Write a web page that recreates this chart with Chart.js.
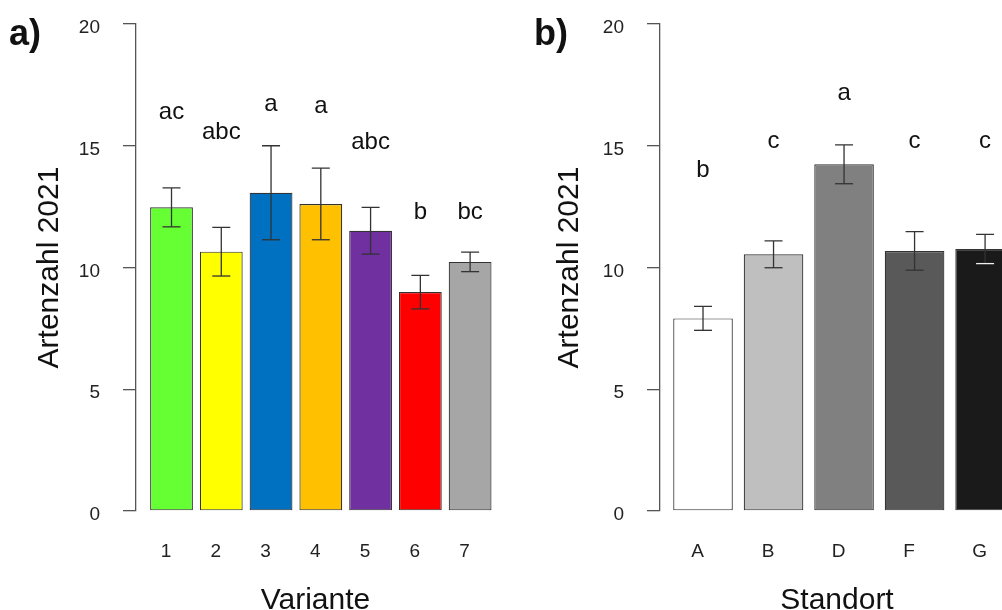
<!DOCTYPE html>
<html>
<head>
<meta charset="utf-8">
<script src="https://cdn.jsdelivr.net/npm/chart.js@4.4.0/dist/chart.umd.min.js"></script>
<style>
  html, body { margin: 0; padding: 0; width: 1002px; height: 610px; overflow: hidden; background: #fff; }
  .wrap { position: absolute; top: 0; height: 610px; }
  #wa { left: 0; width: 520px; }
  #wb { left: 520px; width: 520px; }
</style>
</head>
<body>
<div class="wrap" id="wa"><canvas id="ca" width="520" height="610"></canvas></div>
<div class="wrap" id="wb"><canvas id="cb" width="520" height="610"></canvas></div>
<script>
// ---- data panel a) ----
const variantCategories = ['1', '2', '3', '4', '5', '6', '7'];
const variantMeans = [12.47, 10.65, 13.07, 12.61, 11.51, 8.99, 10.23];
const variantSE = [0.80, 1.00, 1.93, 1.47, 0.96, 0.69, 0.40];
const variantLetters = ['ac', 'abc', 'a', 'a', 'abc', 'b', 'bc'];
const variantLetterHeights = [16.36, 15.54, 16.7, 16.62, 15.15, 12.26, 12.26];
const variantColors = ['#66FF33', '#FFFF00', '#0070C0', '#FFC000', '#7030A0', '#FF0000', '#A6A6A6'];

// ---- data panel b) ----
const standortCategories = ['A', 'B', 'D', 'F', 'G'];
const standortMeans = [7.91, 10.54, 14.24, 10.68, 10.76];
const standortSE = [0.49, 0.55, 0.80, 0.79, 0.60];
const standortLetters = ['b', 'c', 'a', 'c', 'c'];
const standortLetterHeights = [14.0, 15.17, 17.15, 15.17, 15.17];
const standortColors = ['#FFFFFF', '#BFBFBF', '#808080', '#595959', '#1A1A1A'];

// ---- y axis ticks ----
const yTickValues = [0, 5, 10, 15, 20];

const FONT = "'Liberation Sans', Arial, Helvetica, sans-serif";

function luminance(hex) {
  const n = parseInt(hex.slice(1), 16);
  return (0.299 * ((n >> 16) & 255) + 0.587 * ((n >> 8) & 255) + 0.114 * (n & 255)) / 255;
}

function annotPlugin(panelLabel, se, means, letters, letterHeights, colors) {
  return {
    id: 'annot',
    afterDatasetsDraw(chart) {
      const ctx = chart.ctx;
      const meta = chart.getDatasetMeta(0);
      const ys = chart.scales.y;
      ctx.save();
      // error bars
      meta.data.forEach((bar, i) => {
        const x = bar.x;
        const yHi = ys.getPixelForValue(means[i] + se[i]);
        const yLo = ys.getPixelForValue(means[i] - se[i]);
        const hw = 9;
        ctx.lineWidth = 1.3;
        ctx.strokeStyle = '#333';
        ctx.beginPath();
        ctx.moveTo(x, yHi); ctx.lineTo(x, yLo);
        ctx.moveTo(x - hw, yHi); ctx.lineTo(x + hw, yHi);
        ctx.stroke();
        ctx.strokeStyle = luminance(colors[i]) < 0.2 ? '#f0f0f0' : '#333';
        ctx.beginPath();
        ctx.moveTo(x - hw, yLo); ctx.lineTo(x + hw, yLo);
        ctx.stroke();
      });
      // letters
      ctx.fillStyle = '#111';
      ctx.font = '24px ' + FONT;
      ctx.textAlign = 'center';
      ctx.textBaseline = 'middle';
      meta.data.forEach((bar, i) => {
        ctx.fillText(letters[i], bar.x, ys.getPixelForValue(letterHeights[i]));
      });
      // panel label
      ctx.font = 'bold 36px ' + FONT;
      ctx.textAlign = 'left';
      ctx.textBaseline = 'alphabetic';
      ctx.fillText(panelLabel.text, panelLabel.x, 45);
      ctx.restore();
    }
  };
}

function makeChart(canvasId, cfg) {
  return new Chart(document.getElementById(canvasId), {
    type: 'bar',
    data: {
      datasets: [{
        data: cfg.means.map((v, i) => ({ x: i + 1, y: v })),
        backgroundColor: cfg.colors,
        borderColor: '#333',
        borderWidth: 1.2,
        borderSkipped: false,
        barPercentage: cfg.barPct,
        categoryPercentage: 1,
        clip: false
      }]
    },
    options: {
      responsive: false,
      animation: false,
      events: [],
      layout: { padding: { left: 0, top: 24, right: cfg.padRight, bottom: 0 } },
      plugins: { legend: { display: false }, tooltip: { enabled: false } },
      scales: {
        x: {
          type: 'linear',
          min: cfg.xmin,
          max: cfg.xmax,
          offset: false,
          grid: { display: false, drawTicks: false },
          border: { display: false },
          afterBuildTicks: (s) => { s.ticks = cfg.categories.map((c, i) => ({ value: i + 1 })); },
          afterFit: (s) => { s.height = 99; s.paddingLeft = 0; s.paddingRight = 0; },
          ticks: {
            autoSkip: false,
            maxRotation: 0,
            padding: 29,
            labelOffset: -5.5,
            color: '#222',
            font: { family: FONT, size: 19 },
            callback: (v) => cfg.categories[Math.round(v) - 1] ?? ''
          },
          title: {
            display: true,
            text: cfg.xTitle,
            color: '#111',
            font: { family: FONT, size: 30, lineHeight: 1 },
            padding: { top: 0, bottom: -6 }
          }
        },
        y: {
          min: 0,
          max: 20,
          afterBuildTicks: (s) => { s.ticks = yTickValues.map(v => ({ value: v })); },
          afterFit: (s) => { s.width = cfg.axisX; s.paddingTop = 0; s.paddingBottom = 0; },
          grid: { display: true, drawOnChartArea: false, drawTicks: true, tickLength: 13, color: '#555', lineWidth: 1.3 },
          border: { display: true, color: '#555', width: 1.3 },
          ticks: {
            padding: 23,
            labelOffset: 4,
            color: '#222',
            font: { family: FONT, size: 19 }
          },
          title: {
            display: true,
            text: 'Artenzahl 2021',
            color: '#111',
            font: { family: FONT, size: 30, lineHeight: 1.2 },
            padding: { top: 32, bottom: 0 }
          }
        }
      }
    },
    plugins: [annotPlugin(cfg.panel, cfg.se, cfg.means, cfg.letters, cfg.letterHeights, cfg.colors)]
  });
}

makeChart('ca', {
  categories: variantCategories, means: variantMeans, se: variantSE,
  letters: variantLetters, letterHeights: variantLetterHeights, colors: variantColors,
  xTitle: 'Variante', axisX: 136, xmin: 0.2864, xmax: 7.5, padRight: 25, barPct: 0.86,
  panel: { text: 'a)', x: 9 }
});

makeChart('cb', {
  categories: standortCategories, means: standortMeans, se: standortSE,
  letters: standortLetters, letterHeights: standortLetterHeights, colors: standortColors,
  xTitle: 'Standort', axisX: 140, xmin: 0.39, xmax: 5.41, padRight: 26, barPct: 0.845,
  panel: { text: 'b)', x: 14 }
});
</script>
</body>
</html>
